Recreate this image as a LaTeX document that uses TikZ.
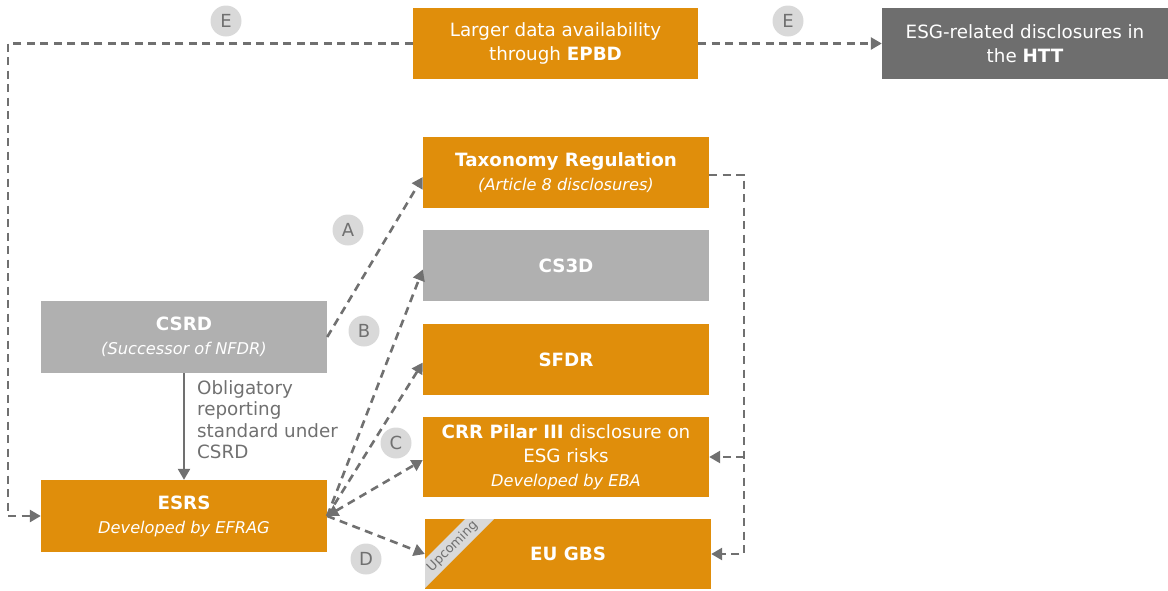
\documentclass[tikz,border=0pt]{standalone}
\usepackage{fontspec}
\setmainfont{DejaVu Sans}
\usetikzlibrary{arrows.meta,calc}
\definecolor{org}{HTML}{E08E0B}
\definecolor{lgr}{HTML}{B0B0B0}
\definecolor{dgr}{HTML}{6E6E6E}
\definecolor{cgr}{HTML}{D9D9D9}
\definecolor{lc}{HTML}{707070}
\begin{document}
\begin{tikzpicture}[x=1pt,y=-1pt,
 box/.style={draw=none, inner sep=0pt, minimum width=286pt, minimum height=71pt, text=white, align=center, font=\fontsize{18.3}{24}\selectfont},
 obox/.style={box, fill=org},
 gbox/.style={box, fill=lgr},
 dbox/.style={box, fill=dgr},
 circ/.style={circle, fill=cgr, inner sep=0pt, minimum size=31pt, text=lc, font=\fontsize{18}{18}\selectfont},
 dline/.style={draw=lc, line width=2.6pt, dash pattern=on 8pt off 5.5pt, -{Triangle[length=11pt,width=12pt]}},
 sline/.style={draw=lc, line width=2.4pt, -{Triangle[length=11pt,width=12pt]}}]
\useasboundingbox (0,0) rectangle (1168,590);

% boxes
\node[obox, minimum width=285pt] (epbd) at (555.5,43.5) {Larger data availability\\through \textbf{EPBD}};
\node[dbox] (htt) at (1025,43.5) {ESG-related disclosures in\\the \textbf{HTT}};
\node[obox] (tax) at (566,172.5) {\textbf{Taxonomy Regulation}\\{\fontsize{16.2}{24}\selectfont\itshape (Article 8 disclosures)}};
\node[gbox] (cs3d) at (566,265.5) {\textbf{CS3D}};
\node[obox] (sfdr) at (566,359.5) {\textbf{SFDR}};
\node[obox, minimum height=80pt] (crr) at (566,457) {\textbf{CRR Pilar III} disclosure on\\ESG risks\\{\fontsize{16.2}{24}\selectfont\itshape Developed by EBA}};
\node[obox, minimum height=70pt] (eugbs) at (568,554) {\textbf{EU GBS}};
\node[gbox, minimum height=72pt] (csrd) at (184,337) {\textbf{CSRD}\\{\fontsize{16.2}{24}\selectfont\itshape (Successor of NFDR)}};
\node[obox, minimum height=72pt] (esrs) at (184,516) {\textbf{ESRS}\\{\fontsize{16.2}{24}\selectfont\itshape Developed by EFRAG}};

% upcoming ribbon
\begin{scope}
\clip (eugbs.south west) rectangle (eugbs.north east);
\fill[cgr] (465,519) -- (494,519) -- (425,588) -- (425,559) -- cycle;
\end{scope}
\node[rotate=45, text=lc, inner sep=0pt, font=\fontsize{13}{13}\selectfont] (up) at (452.5,546.5) {Upcoming};

% circles
\node[circ] (e1) at (226,21) {E};
\node[circ] (e2) at (788,21) {E};
\node[circ] (ca) at (348,230) {A};
\node[circ] (cb) at (364,331) {B};
\node[circ] (cc) at (396,443) {C};
\node[circ] (cd) at (366,559) {D};

% label
\node[anchor=north west, align=left, text=lc, inner sep=0pt, font=\fontsize{18.3}{21.5}\selectfont] (obl) at (197,380) {Obligatory\\reporting\\standard under\\CSRD};

% connectors
\coordinate (lcorner) at (8,43.5);
\draw[dline] (epbd.west) -- (lcorner) |- (esrs.west);
\draw[dline] (epbd.east) -- (htt.west);
\draw[dline] (csrd.east) -- ([yshift=-4.5pt]tax.west);
\draw[dline] (esrs.east) -- ([yshift=-4pt]cs3d.west);
\draw[dline] (esrs.east) -- ([yshift=-3pt]sfdr.west);
\draw[dline, {Triangle[length=11pt,width=12pt]}-{Triangle[length=11pt,width=12pt]}] (esrs.east) -- ([yshift=-3pt]crr.west);
\draw[dline] (esrs.east) -- (eugbs.west);
\coordinate (rcorner) at (744,175);
\coordinate (rmid) at (744,457);
\draw[dline] ([yshift=-2.5pt]tax.east) -- (rcorner) |- (eugbs.east);
\draw[dline] (rmid) -- (crr.east);
\draw[sline] (csrd.south) -- (esrs.north);
\end{tikzpicture}
\end{document}
